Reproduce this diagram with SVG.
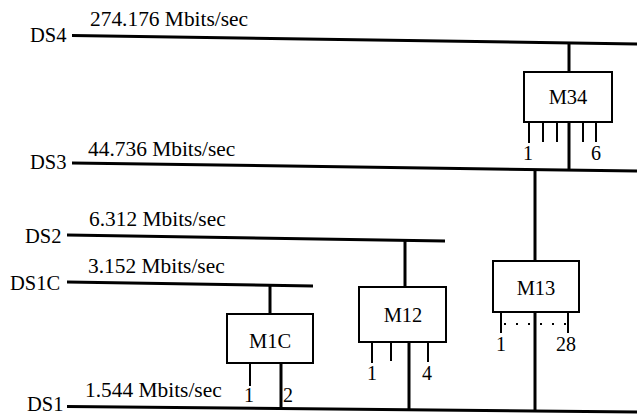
<svg xmlns="http://www.w3.org/2000/svg" width="637" height="415" viewBox="0 0 637 415">
<style>
text{font-family:"Liberation Serif","Times New Roman","DejaVu Serif",serif;fill:#000}
.lbl{font-size:20.5px}
.rate{font-size:21.4px}
.box{fill:#fff;stroke:#000;stroke-width:2}
.bus{stroke:#000;stroke-width:3;fill:none}
.trunk{stroke:#000;stroke-width:3;fill:none}
.tick{stroke:#000;stroke-width:2;fill:none}
.num{font-size:20px}
</style>
<rect width="637" height="415" fill="#fff"/>
<g id="connectors">
<line class="bus" x1="72" y1="35.5" x2="637" y2="44"/>
<line class="bus" x1="72" y1="163" x2="637" y2="171"/>
<line class="bus" x1="67" y1="235" x2="445" y2="241"/>
<line class="bus" x1="67" y1="282" x2="313" y2="286"/>
<line class="bus" x1="67" y1="406.5" x2="637" y2="412"/>
<line class="trunk" x1="569" y1="43" x2="569" y2="72"/>
<line class="trunk" x1="569" y1="122" x2="569" y2="170"/>
<line class="trunk" x1="535" y1="169" x2="535" y2="261"/>
<line class="trunk" x1="535" y1="312" x2="535" y2="411"/>
<line class="trunk" x1="405" y1="240" x2="405" y2="287"/>
<line class="trunk" x1="409" y1="342" x2="409" y2="410"/>
<line class="trunk" x1="270" y1="285" x2="270" y2="314"/>
<line class="trunk" x1="281" y1="363" x2="281" y2="409"/>
</g>
<g id="DS4"><text class="lbl" x="30" y="42">DS4</text><text class="rate" x="90" y="26">274.176 Mbits/sec</text></g>
<g id="DS3"><text class="lbl" x="30" y="169">DS3</text><text class="rate" x="88" y="156">44.736 Mbits/sec</text></g>
<g id="DS2"><text class="lbl" x="25" y="243">DS2</text><text class="rate" x="89" y="226">6.312 Mbits/sec</text></g>
<g id="DS1C"><text class="lbl" x="10" y="290">DS1C</text><text class="rate" x="88" y="273">3.152 Mbits/sec</text></g>
<g id="DS1"><text class="lbl" x="27" y="411">DS1</text><text class="rate" x="85" y="397">1.544 Mbits/sec</text></g>
<g id="M34">
<rect class="box" x="524" y="72" width="88" height="50"/>
<text class="lbl" x="568" y="104" text-anchor="middle">M34</text>
<line class="tick" x1="529" y1="122" x2="529" y2="143"/>
<line class="tick" x1="543" y1="122" x2="543" y2="142"/>
<line class="tick" x1="557" y1="122" x2="557" y2="142"/>
<line class="tick" x1="583" y1="122" x2="583" y2="142"/>
<line class="tick" x1="596" y1="122" x2="596" y2="142"/>
<text class="num" x="528" y="160" text-anchor="middle">1</text>
<text class="num" x="596" y="160" text-anchor="middle">6</text>
</g>
<g id="M13">
<rect class="box" x="493" y="261" width="86" height="51"/>
<text class="lbl" x="536" y="295" text-anchor="middle">M13</text>
<line class="tick" x1="501" y1="312" x2="501" y2="333"/>
<line class="tick" x1="568" y1="312" x2="568" y2="333"/>
<line x1="504" y1="324" x2="566" y2="324" stroke="#000" stroke-width="2" stroke-dasharray="2 10"/>
<text class="num" x="501" y="351" text-anchor="middle">1</text>
<text class="num" x="566" y="351" text-anchor="middle">28</text>
</g>
<g id="M12">
<rect class="box" x="359" y="287" width="87" height="55"/>
<text class="lbl" x="403" y="322" text-anchor="middle">M12</text>
<line class="tick" x1="372" y1="342" x2="372" y2="363"/>
<line class="tick" x1="391" y1="342" x2="391" y2="361"/>
<line class="tick" x1="428" y1="342" x2="428" y2="362"/>
<text class="num" x="372" y="380" text-anchor="middle">1</text>
<text class="num" x="427" y="380" text-anchor="middle">4</text>
</g>
<g id="M1C">
<rect class="box" x="227" y="314" width="86" height="49"/>
<text class="lbl" x="270" y="348" text-anchor="middle">M1C</text>
<line class="tick" x1="250" y1="363" x2="250" y2="386"/>
<text class="num" x="249" y="402" text-anchor="middle">1</text>
<text class="num" x="288" y="402" text-anchor="middle">2</text>
</g>
</svg>
